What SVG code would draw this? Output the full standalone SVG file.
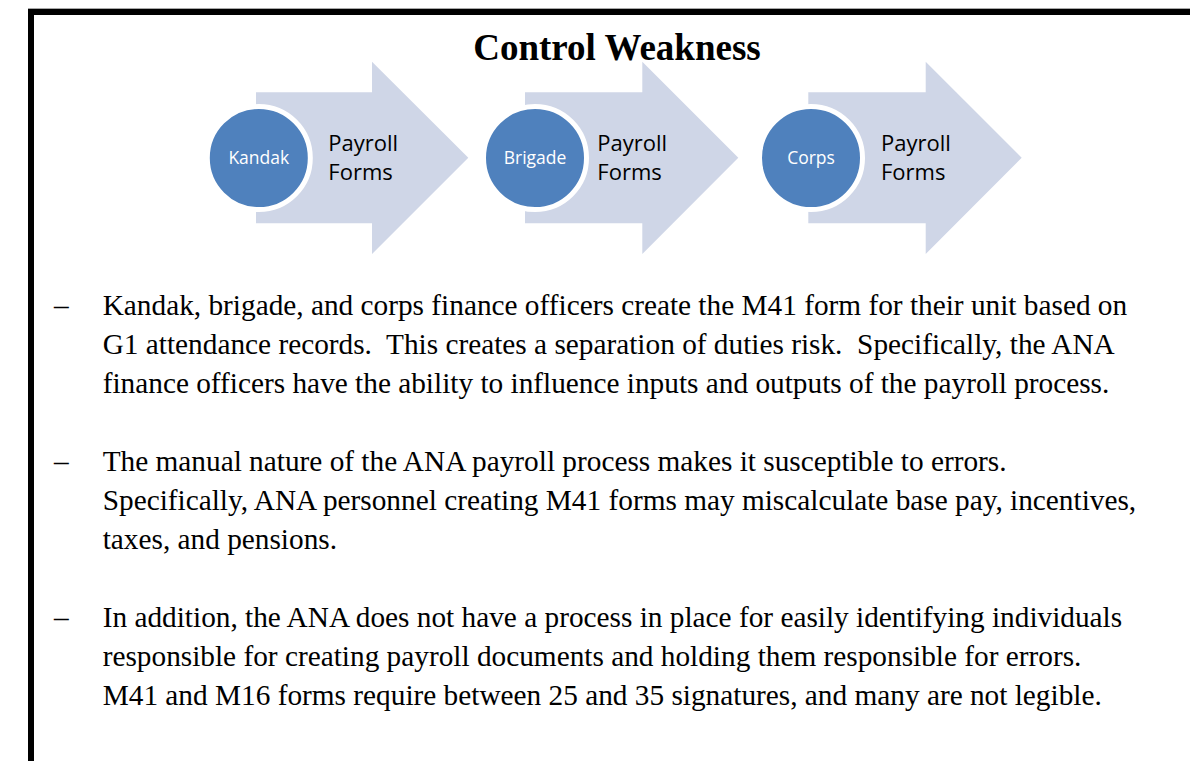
<svg xmlns="http://www.w3.org/2000/svg" width="1190" height="761" viewBox="0 0 1190 761">
<style>
.arrow{fill:#CFD6E7}
.circ{fill:#4F81BD;stroke:#FFFFFF;stroke-width:5}
.clabel{font-family:"Open Sans","Liberation Sans",sans-serif;font-size:17.5px;fill:#FFFFFF;text-anchor:middle}
.alabel{font-family:"Open Sans","Liberation Sans",sans-serif;font-size:22px;fill:#000000}
.title{font-family:"Liberation Serif","Times New Roman",serif;font-size:37px;font-weight:bold;fill:#000000;text-anchor:middle}
.body{font-family:"Liberation Serif","Times New Roman",serif;font-size:29.3px;fill:#000000;white-space:pre}
</style>
<rect x="0" y="0" width="1190" height="761" fill="#FFFFFF"/>
<g id="frame">
<rect x="28" y="8" width="1162" height="1" fill="#A8A8A8"/>
<rect x="28" y="9" width="1162" height="6" fill="#000000"/>
<rect x="28" y="9" width="6" height="752" fill="#000000"/>
</g>
<g id="title">
<text class="title" x="617" y="60">Control Weakness</text>
</g>
<g id="step-kandak">
<polygon class="arrow" points="256,92.3 372,92.3 372,61.7 468.3,157.7 372,254 372,223.3 256,223.3"/>
<circle class="circ" cx="258.8" cy="158" r="51.5"/>
<text class="clabel" x="258.8" y="164">Kandak</text>
<text class="alabel" x="328.3" y="151">Payroll</text>
<text class="alabel" x="328.3" y="180">Forms</text>
</g>
<g id="step-brigade">
<polygon class="arrow" points="525,92.3 642.3,92.3 642.3,61.7 738.3,157.7 642.3,254 642.3,223.3 525,223.3"/>
<circle class="circ" cx="535" cy="158" r="51.5"/>
<text class="clabel" x="535" y="164">Brigade</text>
<text class="alabel" x="597.3" y="151">Payroll</text>
<text class="alabel" x="597.3" y="180">Forms</text>
</g>
<g id="step-corps">
<polygon class="arrow" points="808.3,92.3 925.7,92.3 925.7,61.7 1021.7,157.7 925.7,254 925.7,223.3 808.3,223.3"/>
<circle class="circ" cx="811" cy="158" r="51.5"/>
<text class="clabel" x="811" y="164">Corps</text>
<text class="alabel" x="881" y="151">Payroll</text>
<text class="alabel" x="881" y="180">Forms</text>
</g>
<g id="bullet-1">
<text class="body" x="54" y="315">–</text>
<text class="body" x="102.7" y="315">Kandak, brigade, and corps finance officers create the M41 form for their unit based on</text>
<text class="body" x="102.7" y="354">G1 attendance records.  This creates a separation of duties risk.  Specifically, the ANA</text>
<text class="body" x="102.7" y="393">finance officers have the ability to influence inputs and outputs of the payroll process.</text>
</g>
<g id="bullet-2">
<text class="body" x="54" y="471">–</text>
<text class="body" x="102.7" y="471">The manual nature of the ANA payroll process makes it susceptible to errors.</text>
<text class="body" x="102.7" y="510">Specifically, ANA personnel creating M41 forms may miscalculate base pay, incentives,</text>
<text class="body" x="102.7" y="549">taxes, and pensions.</text>
</g>
<g id="bullet-3">
<text class="body" x="54" y="627">–</text>
<text class="body" x="102.7" y="627">In addition, the ANA does not have a process in place for easily identifying individuals</text>
<text class="body" x="102.7" y="666">responsible for creating payroll documents and holding them responsible for errors.</text>
<text class="body" x="102.7" y="705">M41 and M16 forms require between 25 and 35 signatures, and many are not legible.</text>
</g>
</svg>
